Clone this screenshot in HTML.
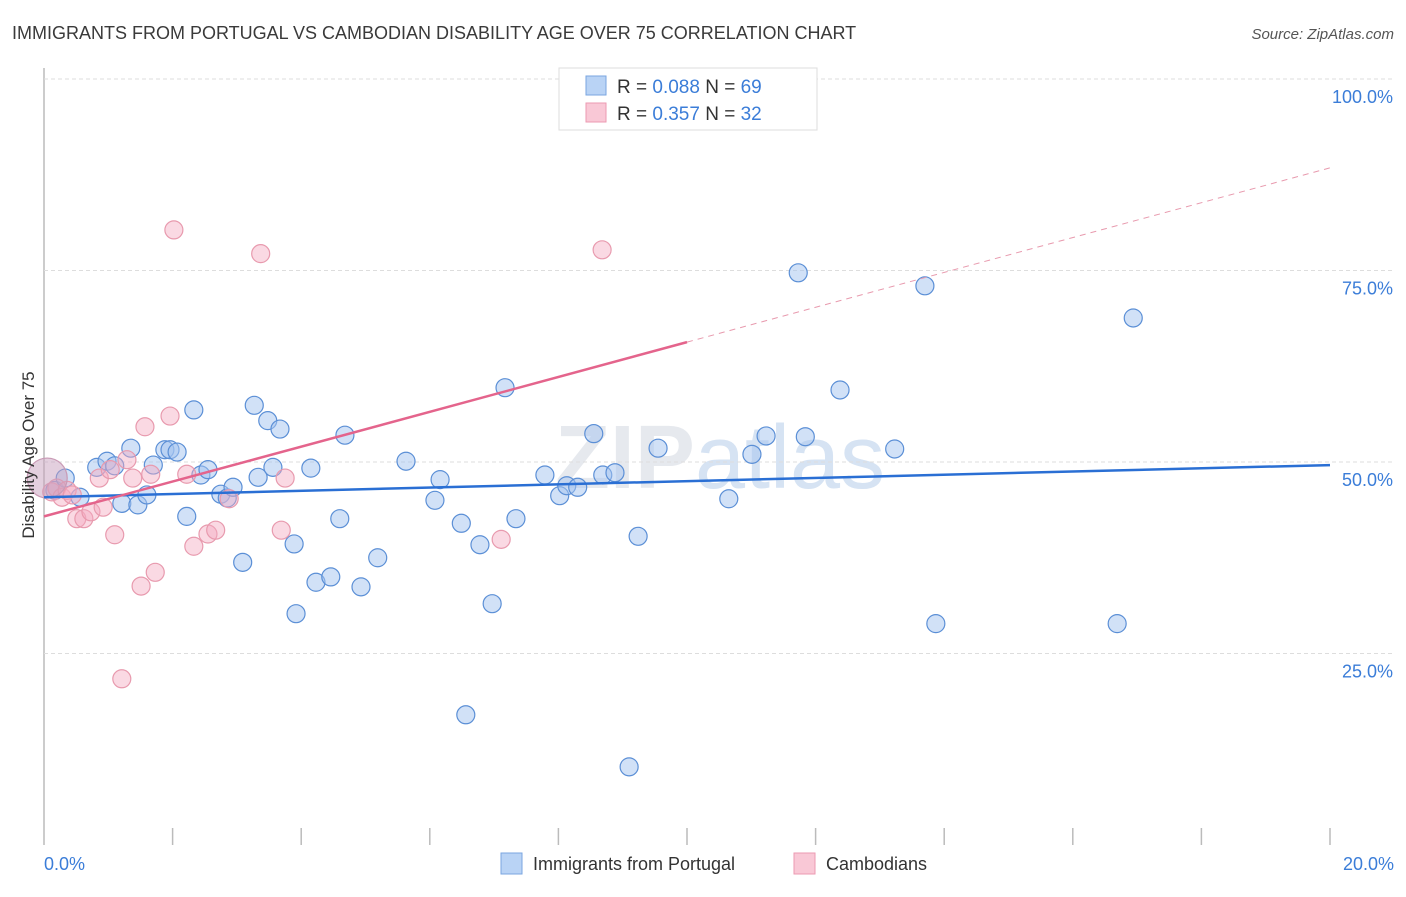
<!DOCTYPE html>
<html><head><meta charset="utf-8"><style>
body{margin:0;background:#fff;font-family:"Liberation Sans",sans-serif;}
svg text{font-family:"Liberation Sans",sans-serif;}
</style></head><body>
<svg id="chart" width="1406" height="892" xmlns="http://www.w3.org/2000/svg">
<text x="12" y="39" font-size="18" fill="#3a3a3a">IMMIGRANTS FROM PORTUGAL VS CAMBODIAN DISABILITY AGE OVER 75 CORRELATION CHART</text>
<text x="1394" y="39" font-size="15" fill="#555" font-style="italic" text-anchor="end">Source: ZipAtlas.com</text>
<text x="720" y="488" font-size="90" fill="#e6e9ee" text-anchor="middle" font-family="Liberation Serif" font-weight="bold">ZIP<tspan fill="#d6e3f3" font-family="Liberation Sans" font-weight="normal">atlas</tspan></text>
<g id="grid"></g><g id="ticks"></g><g id="pts"></g><g id="lines"></g>
<text transform="translate(34,455) rotate(-90)" font-size="17" fill="#333" text-anchor="middle">Disability Age Over 75</text>
<text x="44" y="870" font-size="18" fill="#3b7dd8">0.0%</text>
<text x="1394" y="870" font-size="18" fill="#3b7dd8" text-anchor="end">20.0%</text>
<g>
<rect x="559" y="68" width="258" height="62" fill="#fff" stroke="#ddd"/>
<rect x="586" y="76" width="20" height="19" fill="#b9d3f5" stroke="#7aa6e0"/>
<rect x="586" y="103" width="20" height="19" fill="#f9c8d6" stroke="#ec9ab2"/>
<text x="617" y="93" font-size="19" fill="#333">R = <tspan fill="#3b7dd8">0.088</tspan>   N = <tspan fill="#3b7dd8">69</tspan></text>
<text x="617" y="120" font-size="19" fill="#333">R =  <tspan fill="#3b7dd8">0.357</tspan>   N = <tspan fill="#3b7dd8">32</tspan></text>
</g>
<g>
<rect x="501" y="853" width="21" height="21" fill="#b9d3f5" stroke="#7aa6e0"/>
<text x="533" y="870" font-size="18" fill="#333">Immigrants from Portugal</text>
<rect x="794" y="853" width="21" height="21" fill="#f9c8d6" stroke="#ec9ab2"/>
<text x="826" y="870" font-size="18" fill="#333">Cambodians</text>
</g>
</svg>
<script>
const blueX=[0.17,0.33,0.56,0.82,0.98,1.10,1.21,1.35,1.46,1.60,1.70,1.88,1.96,2.07,2.22,2.33,2.44,2.55,2.75,2.85,2.94,3.09,3.27,3.33,3.48,3.56,3.67,3.89,3.92,4.15,4.23,4.46,4.60,4.68,4.93,5.19,5.63,6.08,6.16,6.49,6.56,6.78,6.97,7.17,7.34,7.79,8.02,8.13,8.30,8.55,8.69,8.88,9.10,9.24,9.55,10.65,11.01,11.23,11.73,11.84,12.38,13.23,13.70,13.87,16.69,16.94];
const blueY=[46.3,47.9,45.4,49.3,50.1,49.5,44.6,51.8,44.4,45.7,49.6,51.6,51.6,51.3,42.9,56.8,48.3,49.0,45.8,45.3,46.7,36.9,57.4,48.0,55.4,49.3,54.3,39.3,30.2,49.2,34.3,35.0,42.6,53.5,33.7,37.5,50.1,45.0,47.7,42.0,17.0,39.2,31.5,59.7,42.6,48.3,45.6,46.9,46.7,53.7,48.3,48.6,10.2,40.3,51.8,45.2,51.0,53.4,74.7,53.3,59.4,51.7,73.0,28.9,28.9,68.8];
const pinkX=[0.12,0.20,0.28,0.36,0.44,0.51,0.62,0.73,0.86,0.92,1.03,1.10,1.21,1.29,1.38,1.51,1.57,1.66,1.73,1.96,2.02,2.22,2.33,2.55,2.67,2.88,3.37,3.69,3.75,7.11,8.68];
const pinkY=[46.1,46.6,45.4,46.3,45.7,42.6,42.6,43.5,47.9,44.1,49.0,40.5,21.7,50.3,47.9,33.8,54.6,48.4,35.6,56.0,80.3,48.4,39.0,40.6,41.1,45.2,77.2,41.1,47.9,39.9,77.7];
const bigX=[0.05], bigY=[47.9];
const yTicks=[25,50,75,100];
const yTickLabels=["25.0%","50.0%","75.0%","100.0%"];
const xTicks=[2,4,6,8,10,12,14,16,18,20];
const blueTrend=[45.4,49.6];   // y at x=0 and x=20
const pinkTrend=[42.9,88.4];
const pinkSolidEnd=10;
const NS="http://www.w3.org/2000/svg";
const X=v=>44+v*64.3, Y=v=>845-v*7.66;
function mk(tag,attrs,parent){const e=document.createElementNS(NS,tag);for(const k in attrs)e.setAttribute(k,attrs[k]);document.getElementById(parent).appendChild(e);return e;}
mk('line',{x1:44,y1:68,x2:44,y2:845,stroke:'#bbb','stroke-width':1.5},'grid');
yTicks.forEach((t,i)=>{
 const g=mk('line',{x1:44,x2:1393,y1:Y(t),y2:Y(t),stroke:'#ddd','stroke-dasharray':'4,3'},'grid');
 
 
 const l=mk('text',{x:1393,y:Y(t)+24,'font-size':18,fill:'#3b7dd8','text-anchor':'end'},'grid');
 l.textContent=yTickLabels[i];
 
 
});
mk('line',{x1:1393,y1:Y(100),x2:1393,y2:Y(100),stroke:'#ddd'},'grid');
xTicks.forEach(t=>{
 const e=mk('line',{x1:X(t),x2:X(t),y1:828,y2:845,stroke:'#bbb','stroke-width':1.5},'ticks');
 
 
});
function pts(xs,ys,fill,stroke,name,r){
 xs.forEach((x,i)=>{
  const c=mk('circle',{cx:X(x),cy:Y(ys[i]),r:r,fill:fill,stroke:stroke,'stroke-width':1.2},'pts');
  
  
 });
}
pts(blueX,blueY,'rgba(164,196,240,0.5)','#5b8fd6','portugal-point',9);
pts(pinkX,pinkY,'rgba(245,170,192,0.45)','#e89aae','cambodian-point',9);
pts(bigX,bigY,'rgba(200,160,190,0.5)','#c99ab5','large-point',20);
let e=mk('line',{x1:X(0),y1:Y(blueTrend[0]),x2:X(20),y2:Y(blueTrend[1]),stroke:'#2a6fd4','stroke-width':2.5},'lines');


const py=x=>pinkTrend[0]+(pinkTrend[1]-pinkTrend[0])*x/20;
e=mk('line',{x1:X(0),y1:Y(py(0)),x2:X(pinkSolidEnd),y2:Y(py(pinkSolidEnd)),stroke:'#e4648c','stroke-width':2.5},'lines');


e=mk('line',{x1:X(pinkSolidEnd),y1:Y(py(pinkSolidEnd)),x2:X(20),y2:Y(py(20)),stroke:'#e89aae','stroke-width':1,'stroke-dasharray':'6,5'},'lines');


</script>
</body></html>
